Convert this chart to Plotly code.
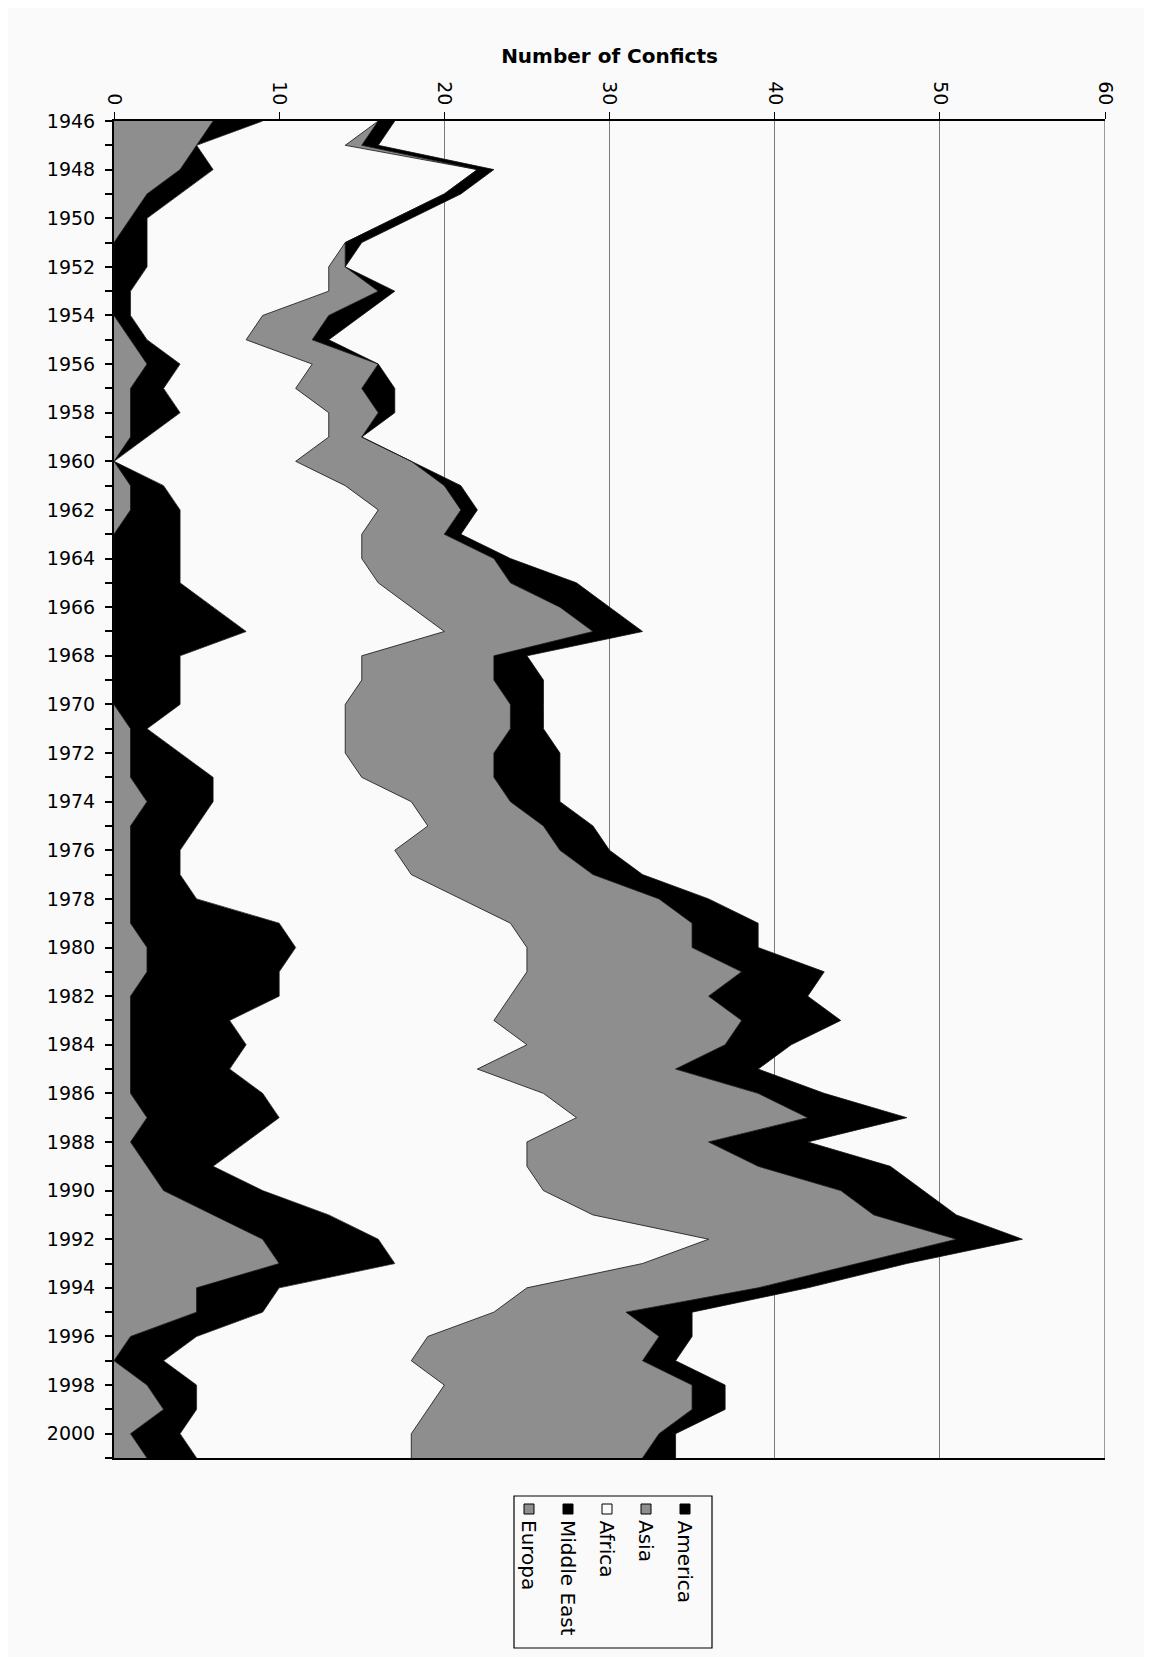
import plotly.graph_objects as go

years = list(range(1946, 2002))

europa = [6, 5, 4, 2, 1, 0, 0, 0, 0, 1, 2, 1, 1, 1, 0, 1, 1, 0, 0, 0,
          0, 0, 0, 0, 0, 1, 1, 1, 2, 1, 1, 1, 1, 1, 2, 2, 1, 1, 1, 1,
          1, 2, 1, 2, 3, 6, 9, 10, 5, 5, 1, 0, 2, 3, 1, 2]
middle_east = [3, 0, 2, 2, 1, 2, 2, 1, 1, 1, 2, 2, 3, 1, 0, 2, 3, 4, 4, 4,
               6, 8, 4, 4, 4, 1, 3, 5, 4, 4, 3, 3, 4, 9, 9, 8, 9, 6, 7, 6,
               8, 8, 7, 4, 6, 7, 7, 7, 5, 4, 4, 3, 3, 2, 3, 3]
africa = [7, 9, 16, 16, 15, 12, 11, 12, 8, 6, 8, 8, 9, 11, 11, 11, 12, 11, 11, 12,
          12, 12, 11, 11, 10, 12, 10, 9, 12, 14, 13, 14, 16, 14, 14, 15, 14, 16, 17, 15,
          17, 18, 17, 19, 17, 16, 20, 15, 15, 14, 14, 15, 15, 14, 14, 13]
asia = [0, 1, 0, 0, 0, 0, 1, 3, 4, 4, 4, 4, 3, 2, 7, 6, 5, 5, 8, 8,
        9, 9, 8, 8, 10, 10, 9, 8, 6, 7, 10, 11, 12, 11, 10, 13, 12, 15, 12, 12,
        13, 14, 11, 14, 18, 17, 15, 13, 14, 8, 14, 14, 15, 16, 15, 14]
america = [1, 1, 1, 1, 1, 1, 0, 1, 2, 1, 0, 2, 1, 0, 0, 1, 1, 1, 1, 4,
           3, 3, 2, 3, 2, 2, 4, 4, 3, 3, 3, 3, 3, 4, 4, 5, 6, 6, 4, 5,
           4, 6, 6, 8, 5, 5, 4, 3, 3, 4, 2, 2, 2, 2, 1, 2]

series_names = ["Europa", "Middle East", "Africa", "Asia", "America"]
series_values = [europa, middle_east, africa, asia, america]
series_colors = ["#8e8e8e", "#000000", "#fafafa", "#8e8e8e", "#000000"]

x_ticks = [0, 10, 20, 30, 40, 50, 60]
year_labels = [str(y) if (y - 1946) % 2 == 0 and y <= 2000 else "" for y in years]

W, H = 1152, 1657
L, R, T, B = 106, 1097, 113, 1450

fig = go.Figure()
for name, vals, col in zip(series_names, series_values, series_colors):
    fig.add_trace(go.Scatter(
        x=vals, y=years, name=name, stackgroup="one", orientation="h",
        mode="lines", line=dict(color="#111111", width=0.8),
        fillcolor=col, showlegend=False, hoverinfo="skip"))

fig.update_layout(
    width=W, height=H,
    margin=dict(l=L, r=W - R, t=T, b=H - B, pad=0),
    paper_bgcolor="#fafafa", plot_bgcolor="#fafafa",
    font=dict(family="DejaVu Sans, Liberation Sans, sans-serif", color="#000000"),
    title=dict(text="<b>Number of Conficts</b>", x=(L + R) / 2 / W, xanchor="center",
               y=1 - 48 / H, yanchor="middle", yref="container",
               font=dict(size=20, family="DejaVu Sans, sans-serif")),
)

fig.update_xaxes(
    range=[0, 60], side="top", tickvals=x_ticks, ticktext=[str(v) for v in x_ticks],
    tickangle=90, tickfont=dict(size=19, family="DejaVu Sans, sans-serif"),
    showgrid=True, gridcolor="#7a7a7a", gridwidth=1,
    showline=True, linecolor="#000000", linewidth=2, mirror=True,
    ticks="outside", ticklen=7, tickcolor="#000000", tickwidth=1,
    zeroline=False, layer="below traces")

fig.update_yaxes(
    range=[2001, 1946], tickvals=years, ticktext=year_labels,
    tickfont=dict(size=19, family="DejaVu Sans, sans-serif"),
    ticklabelstandoff=6,
    showgrid=False, showline=True, linecolor="#000000", linewidth=2,
    ticks="outside", ticklen=7, tickcolor="#000000", tickwidth=2,
    zeroline=False)

# gridline at 60 drawn as right border of the plot
fig.add_shape(type="line", xref="x", yref="paper", x0=60, x1=60, y0=0, y1=1,
              line=dict(color="#7a7a7a", width=1.5))

# legend (rotated, as in the reference)
def px_x(px):
    return (px - L) / (R - L)

def px_y(py):
    return (B - py) / (B - T)

fig.add_shape(type="rect", xref="paper", yref="paper",
              x0=px_x(506), x1=px_x(704), y0=px_y(1488), y1=px_y(1640),
              line=dict(color="#000000", width=1.2), fillcolor="#fafafa")

legend_x = [521, 560, 599, 638, 677]
for name, col, cx in zip(series_names, series_colors, legend_x):
    fig.add_shape(type="rect", xref="paper", yref="paper",
                  x0=px_x(cx - 5), x1=px_x(cx + 5), y0=px_y(1496), y1=px_y(1506),
                  line=dict(color="#000000", width=1), fillcolor=col)
    fig.add_annotation(xref="paper", yref="paper", x=px_x(cx), y=px_y(1510),
                       text=name, showarrow=False, textangle=90,
                       xanchor="center", yanchor="top",
                       font=dict(size=20, family="DejaVu Sans, sans-serif"))

fig.write_html("out.html")
